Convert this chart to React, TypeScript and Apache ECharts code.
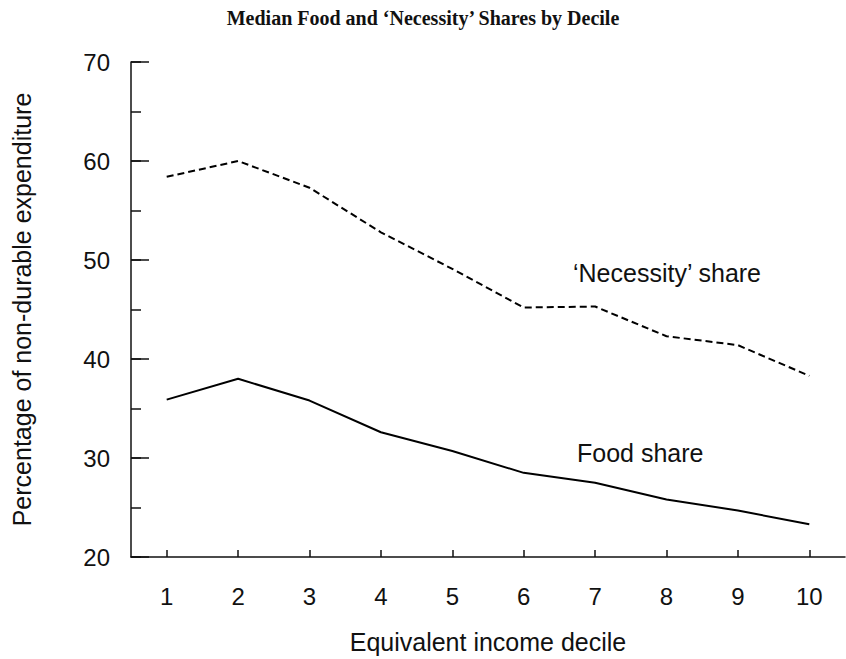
import React, { useEffect, useRef } from "react";
import * as echarts from "echarts";

const deciles = ["1", "2", "3", "4", "5", "6", "7", "8", "9", "10"];
const necessityShare = [58.4, 60.0, 57.3, 52.8, 49.1, 45.2, 45.3, 42.3, 41.4, 38.3];
const foodShare = [35.9, 38.0, 35.8, 32.6, 30.7, 28.5, 27.5, 25.8, 24.7, 23.3];

const SANS = "'Liberation Sans', Arial, Helvetica, sans-serif";
const SERIF = "'Liberation Serif', 'Times New Roman', serif";

export default function App() {
  const ref = useRef<HTMLDivElement>(null);
  useEffect(() => {
    document.body.style.margin = "0";
    if (!ref.current) return;
    const chart = echarts.init(ref.current, undefined, { renderer: "svg" });
    chart.setOption({
      animation: false,
      backgroundColor: "#ffffff",
      title: {
        text: "Median Food and \u2018Necessity\u2019 Shares by Decile",
        left: "center",
        top: 3,
        textStyle: { fontFamily: SERIF, fontSize: 20, fontWeight: "bold", color: "#111" },
      },
      grid: { left: 131, right: 1, top: 62, bottom: 100, containLabel: false },
      xAxis: {
        type: "category",
        data: deciles,
        boundaryGap: true,
        name: "Equivalent income decile",
        nameLocation: "middle",
        nameGap: 72,
        nameTextStyle: { fontFamily: SANS, fontSize: 25, color: "#111" },
        axisLine: { show: true, lineStyle: { color: "#111", width: 1.5 } },
        axisTick: { show: true, inside: true, alignWithLabel: true, length: 7, lineStyle: { color: "#111", width: 1.5 } },
        axisLabel: { fontFamily: SANS, fontSize: 24, color: "#111", margin: 27 },
        splitLine: { show: false },
      },
      yAxis: [
        {
          type: "value",
          min: 20,
          max: 70,
          interval: 10,
          position: "left",
          name: "Percentage of non-durable expenditure",
          nameLocation: "middle",
          nameGap: 97,
          nameTextStyle: { fontFamily: SANS, fontSize: 25, color: "#111" },
          axisLine: { show: true, lineStyle: { color: "#111", width: 1.5 } },
          axisTick: { show: true, inside: true, length: 18, lineStyle: { color: "#111", width: 1.5 } },
          axisLabel: { fontFamily: SANS, fontSize: 24, color: "#111", margin: 21 },
          splitLine: { show: false },
        },
        {
          type: "value",
          min: 20,
          max: 70,
          interval: 5,
          position: "left",
          offset: 0,
          axisLine: { show: false },
          axisTick: { show: true, inside: true, length: 10, lineStyle: { color: "#111", width: 1.5 } },
          axisLabel: { show: false },
          splitLine: { show: false },
        },
      ],
      series: [
        {
          name: "'Necessity' share",
          type: "line",
          yAxisIndex: 0,
          data: necessityShare,
          symbol: "none",
          lineStyle: { color: "#000", width: 2, type: [7, 4] },
        },
        {
          name: "Food share",
          type: "line",
          yAxisIndex: 0,
          data: foodShare,
          symbol: "none",
          lineStyle: { color: "#000", width: 2 },
        },
      ],
      graphic: [
        {
          type: "text",
          left: 573,
          top: 260,
          style: { text: "\u2018Necessity\u2019 share", fontFamily: SANS, fontSize: 25, fill: "#111" },
        },
        {
          type: "text",
          left: 577,
          top: 440,
          style: { text: "Food share", fontFamily: SANS, fontSize: 25, fill: "#111" },
        },
      ],
    });
    return () => chart.dispose();
  }, []);
  return <div ref={ref} style={{ width: 846, height: 659 }} />;
}
